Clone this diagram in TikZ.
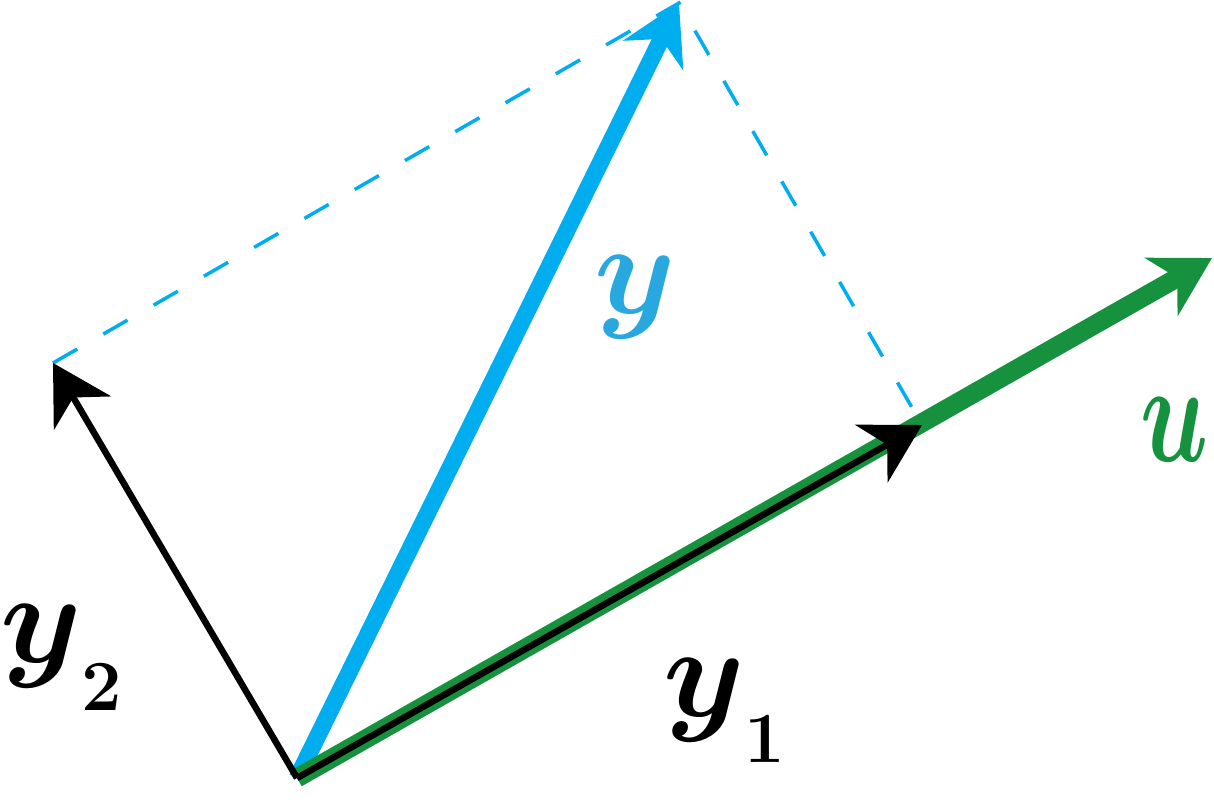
\documentclass[tikz,border=0pt]{standalone}
\usepackage{fix-cm}
\usepackage{bm}
\usetikzlibrary{arrows.meta}
\definecolor{ugreen}{RGB}{22,146,62}
\definecolor{yblue}{RGB}{0,174,239}
\definecolor{lblue}{RGB}{41,168,224}
\begin{document}
\begin{tikzpicture}[x=1pt,y=-1pt,
  tip/.style={-{Stealth[length=58pt,width=66pt,inset=18pt]}},
  dashline/.style={draw=yblue,line width=3.5pt,dash pattern=on 28pt off 30pt},
  yvec/.style={tip,draw=yblue,fill=yblue,line width=17pt},
  uvec/.style={tip,draw=ugreen,fill=ugreen,line width=19pt},
  bvec/.style={tip,draw=black,fill=black,line width=6.5pt},
  lab/.style={inner sep=0pt,anchor=base west,font=\fontsize{130}{130}\selectfont},
  subnum/.style={font=\fontsize{72}{72}\selectfont\bfseries}]
\useasboundingbox (0,0) rectangle (1214,804);
\coordinate (O) at (297,778);
\coordinate (U) at (1212,258);
\coordinate (Y1) at (922,425);
\coordinate (Y) at (679,3);
\coordinate (Y2) at (53,363);
\draw[dashline] (Y2) -- (Y) -- (Y1);
\draw[yvec] (O) -- (Y);
\draw[uvec] (O) -- (U);
\draw[bvec] (O) -- (Y1);
\draw[bvec] (O) -- (Y2);
\node[lab,text=lblue] (ly) at (594,313) {$\bm{y}$};
\node[lab,text=ugreen] (lu) at (1140,461) {\scalebox{0.77}[1.1]{$\bm{u}$}};
\node[lab] (ly1) at (663,716) {$\bm{y}$\raisebox{-46pt}{\fontsize{72}{72}\selectfont$\bm{1}$}};
\node[lab] (ly2) at (0,662) {$\bm{y}$\raisebox{-48pt}{\fontsize{72}{72}\selectfont$\bm{2}$}};
\end{tikzpicture}
\end{document}
